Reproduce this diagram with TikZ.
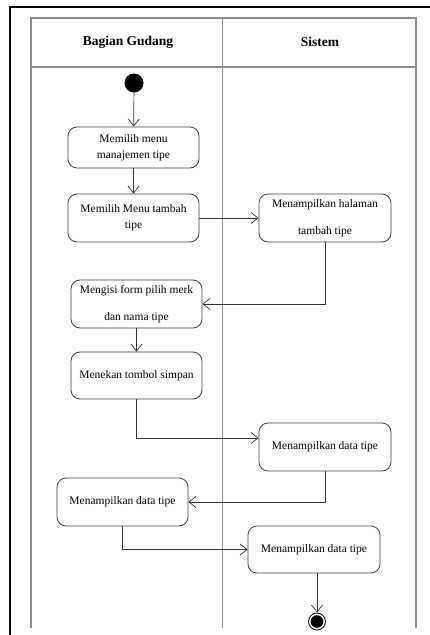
\documentclass[tikz,border=0pt]{standalone}
\usepackage{fontspec}
\setmainfont{Liberation Serif}
\usetikzlibrary{arrows.meta,positioning}

\begin{document}
\begin{tikzpicture}[x=1pt,y=-1pt,
  lane/.style={draw=black!45,line width=1.2pt},
  frame/.style={draw=black,line width=2pt},
  act/.style={draw=black!75,line width=0.8pt,rounded corners=9pt,
    align=center,font=\fontsize{11.5}{16}\selectfont,inner sep=2pt},
  widegap/.style={font=\fontsize{11.5}{27}\selectfont},
  flow/.style={draw=black!80,line width=0.7pt,
    -{Straight Barb[length=7pt,width=11pt,line width=0.7pt]}},
  lanehead/.style={font=\fontsize{13.5}{16}\selectfont\bfseries}
]
\useasboundingbox (0,0) rectangle (429,635);

% outer page frame (only top and left edges fall inside the sheet)
\draw[frame] (10,640) -- (10,6.5) -- (440,6.5);

% swimlanes
\draw[lane] (31,628) -- (31,18) -- (416,18) -- (416,628);
\draw[lane] (31,67) -- (416,67);
\draw[lane] (222.5,18) -- (222.5,628);
\node[lanehead] (hGudang) at (128,42) {Bagian Gudang};
\node[lanehead] (hSistem) at (320,42) {Sistem};

% initial and final states
\node[circle,fill=black,minimum size=19pt,inner sep=0] (start) at (134,83) {};
\node[circle,draw=black,line width=0.8pt,minimum size=17pt,inner sep=0,
  path picture={\fill (path picture bounding box.center) circle (6.3pt);}]
  (finish) at (317,621.5) {};

% activities
\node[act,minimum width=131pt,minimum height=41pt] (a1) at (133.5,147.5)
  {Memilih menu\\manajemen tipe};
\node[act,minimum width=131pt,minimum height=48pt] (a2) at (133.5,218)
  {Memilih Menu tambah\\tipe};
\node[act,widegap,minimum width=132pt,minimum height=48pt] (s1) at (325,218)
  {Menampilkan halaman\\tambah tipe};
\node[act,widegap,minimum width=131pt,minimum height=48pt] (a3) at (136.5,304)
  {Mengisi form pilih merk\\dan nama tipe};
\node[act,minimum width=131pt,minimum height=47pt] (a4) at (136.5,375.5)
  {Menekan tombol simpan};
\node[act,minimum width=132pt,minimum height=48pt] (s2) at (325,447)
  {Menampilkan data tipe};
\node[act,minimum width=131pt,minimum height=48pt] (a5) at (122.5,502)
  {Menampilkan data tipe};
\node[act,minimum width=132pt,minimum height=47pt] (s3) at (314,549.5)
  {Menampilkan data tipe};

% control flow
\draw[flow] (start) -- (a1);
\draw[flow] (a1) -- (a2);
\draw[flow] (a2) -- (s1);
\draw[flow] (s1.south) |- (a3.east);
\draw[flow] (a3) -- (a4);
\draw[flow] (a4.south) |- ([yshift=9pt]s2.west);
\draw[flow] (s2.south) |- (a5.east);
\draw[flow] (a5.south) |- (s3.west);
\draw[flow] (s3.south -| finish) -- (finish.north);
\end{tikzpicture}
\end{document}
